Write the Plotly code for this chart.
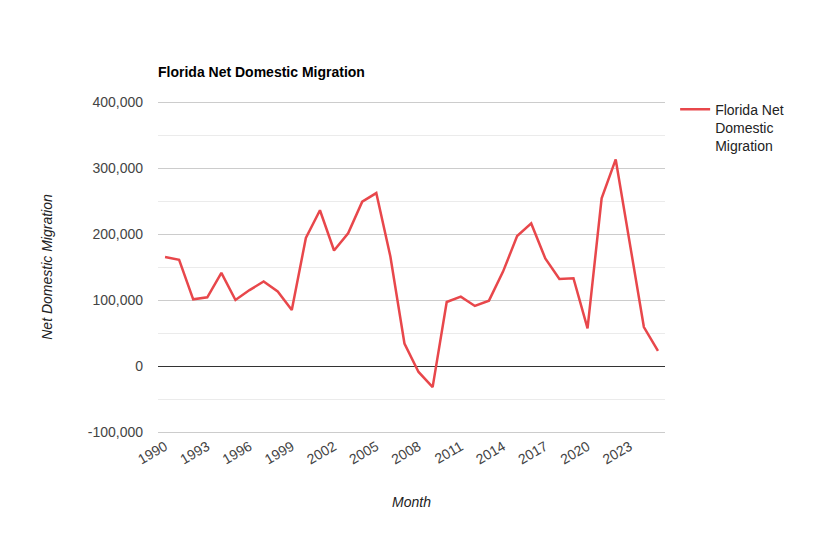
import plotly.graph_objects as go

years = list(range(1990, 2026))
migration = [165000, 161000, 101000, 104000, 141000, 100000, 115000, 128000, 113000, 85000,
             194000, 236000, 175000, 201000, 249000, 262000, 166000, 34000, -9000, -32000,
             97000, 105000, 91000, 99000, 143000, 197000, 216000, 163000, 132000, 133000,
             57000, 254000, 313000, 185000, 59000, 23000]
series_name = "Florida Net<br>Domestic<br>Migration"
title_text = "Florida Net Domestic Migration"
x_title = "Month"
y_title = "Net Domestic Migration"
y_ticks = [-100000, 0, 100000, 200000, 300000, 400000]
y_ticktext = ["-100,000", "0", "100,000", "200,000", "300,000", "400,000"]

FONT = "Liberation Sans, Arial, sans-serif"

# three extra pixels of range at each end so edge gridlines are drawn
pad = 3 * 500000 / 330

fig = go.Figure()
fig.add_trace(go.Scatter(
    x=years, y=migration, mode="lines", name=series_name,
    line=dict(color="#e8474b", width=2.5),
))

fig.update_layout(
    width=823, height=534,
    margin=dict(l=158, r=158, t=99, b=99),
    paper_bgcolor="white", plot_bgcolor="white",
    font=dict(family=FONT, size=14, color="#444"),
    title=dict(text="<b>" + title_text + "</b>", font=dict(size=14, color="#000"),
               x=158/823, xanchor="left", xref="container",
               y=1 - 72/534, yanchor="middle", yref="container"),
    showlegend=True,
    legend=dict(x=1.02, xanchor="left", y=1.016, yanchor="top", valign="top",
                font=dict(size=14, color="#222"), bgcolor="rgba(0,0,0,0)",
                tracegroupgap=0),
    xaxis=dict(
        range=[1989.5, 2025.5], tickmode="array", tickvals=years[::3],
        ticktext=[str(y) for y in years[::3]], tickangle=-30,
        showgrid=False, zeroline=False, showline=False, ticks="",
        tickfont=dict(size=14, color="#444"),
        title=dict(text="<i>" + x_title + "</i>", font=dict(size=14, color="#222"), standoff=30),
    ),
    yaxis=dict(
        range=[-100000 - pad, 400000 + pad], tickmode="array", tickvals=y_ticks, ticktext=y_ticktext,
        showgrid=True, gridcolor="#cccccc", gridwidth=1,
        minor=dict(dtick=50000, tick0=0, showgrid=True, gridcolor="#ebebeb", gridwidth=1),
        zeroline=True, zerolinecolor="#333333", zerolinewidth=1,
        showline=False, ticks="", ticklabelstandoff=14,
        tickfont=dict(size=14, color="#444"),
        title=dict(text="<i>" + y_title + "</i>", font=dict(size=14, color="#222"), standoff=31),
    ),
)

fig.write_html("out.html")
